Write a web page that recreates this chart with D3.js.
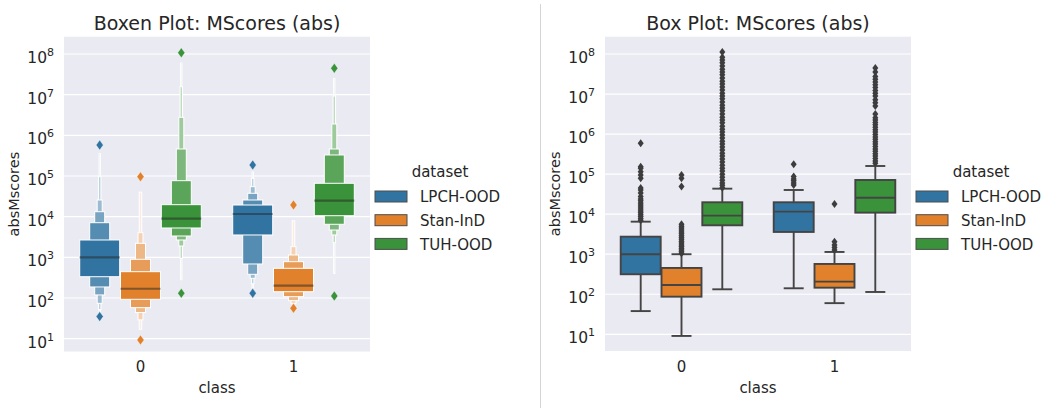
<!DOCTYPE html>
<html>
<head>
<meta charset="utf-8">
<script src="https://cdn.jsdelivr.net/npm/d3@7"></script>
<style>
body { margin: 0; background: #fff; }
text { font-family: "DejaVu Sans", sans-serif; fill: #262626; }
</style>
</head>
<body>
<div id="container"></div>
<script>
// categories
var classes = ["0", "1"];
var datasets = ["LPCH-OOD", "Stan-InD", "TUH-OOD"];
var yTicks = [1e1, 1e2, 1e3, 1e4, 1e5, 1e6, 1e7, 1e8];

// boxen plot: letter values, inner box first  [class][dataset][level]
var boxenMedian = [[1000, 169, 8913], [11640, 201, 24720]];
var boxenLower = [
  [[334, 187, 119, 74, 52, 40], [93, 58, 44, 29, 17], [5272, 3350, 2673, 1901, 948, 282]],
  [[3548, 687, 383, 305, 224, 178], [143, 108, 86, 74, 63], [10570, 6501, 4699, 3548, 2291, 400]]
];
var boxenUpper = [
  [[2673, 7112, 13240, 25700, 96200, 355000], [444, 895, 2213, 4036, 40000], [19720, 76740, 461300, 2.78e6, 1.57e7, 6.0e7]],
  [[19360, 25700, 37580, 54580, 87900, 126000], [537, 782, 1143, 1828, 7943], [66220, 328900, 461300, 1.90e6, 9.27e6, 2.5e7]]
];
var boxenOutliers = [
  [[575000, 35], [96200, 9.3], [1.07e8, 131]],
  [[186600, 131], [19360, 56], [4.45e7, 112]]
];

// box plot  [class][dataset]
var boxQ1 = [[316, 87, 5272], [3597, 146, 10910]];
var boxMedian = [[1000, 171, 9183], [11560, 207, 25820]];
var boxQ3 = [[2742, 454, 19820], [19820, 571, 71450]];
var whiskerLo = [[38, 9.1, 133], [141, 60, 114]];
var whiskerHi = [[6500, 1000, 43350], [40180, 1138, 159600]];
var boxOutliers = [
  [
    [7000, 7800, 8700, 9700, 10800, 12000, 13500, 15000, 17000, 19000, 21500, 24000, 27500,
     34000, 40000, 45000, 79000, 95000, 115000, 140000, 153000, 590000],
    [1050, 1150, 1270, 1400, 1550, 1700, 1900, 2100, 2350, 2600, 2900, 3250, 3600, 4000, 4500, 5000, 5600,
     49000, 79000, 95000],
    [45700, 52500, 60300, 70800, 83200, 1e5, 1.2e5, 1.41e5, 1.66e5, 2.0e5, 2.4e5, 2.82e5, 3.31e5, 3.98e5,
     4.79e5, 5.62e5, 6.61e5, 7.94e5, 9.55e5, 1.12e6, 1.32e6, 1.58e6, 1.91e6, 2.24e6, 2.63e6, 3.16e6,
     3.8e6, 4.47e6, 5.25e6, 6.31e6, 7.59e6, 8.91e6, 1.05e7, 1.26e7, 1.51e7, 1.78e7, 2.09e7, 2.51e7,
     3.02e7, 3.55e7, 4.17e7, 5.01e7, 6.03e7, 7.08e7, 8.32e7, 1.12e8]
  ],
  [
    [53700, 60000, 68000, 76000, 87000, 176000],
    [1276, 1480, 1700, 2050, 18000],
    [1.86e5, 2.14e5, 2.45e5, 2.82e5, 3.24e5, 3.72e5, 4.27e5, 4.9e5, 5.62e5, 6.46e5, 7.41e5, 8.51e5,
     9.77e5, 1.12e6, 1.29e6, 1.48e6, 1.7e6, 1.95e6, 2.24e6, 2.57e6, 3.16e6, 5.01e6, 6.03e6, 7.24e6,
     8.91e6, 1.05e7, 1.23e7, 1.45e7, 1.7e7, 2.0e7, 2.34e7, 2.75e7, 3.55e7, 4.47e7]
  ]
];

var width = 1050, height = 408;
var colors = ["#3274a1", "#e1812c", "#3a923a"];

var svg = d3.select("#container")
  .append("svg")
  .attr("width", width)
  .attr("height", height);

// divider between the two outputs
svg.append("line")
  .attr("x1", 540.5).attr("x2", 540.5)
  .attr("y1", 4).attr("y2", height)
  .attr("stroke", "#d4d4d4")
  .attr("stroke-width", 1);

function diamond(hw, hh) {
  return "M0," + (-hh) + "L" + hw + ",0L0," + hh + "L" + (-hw) + ",0Z";
}

function panel(opt) {
  var g = svg.append("g");

  var x = d3.scaleBand().domain(classes).range([opt.x0, opt.x1]);
  var hue = d3.scaleBand().domain(datasets)
    .range([0.1 * x.bandwidth(), 0.9 * x.bandwidth()]);
  var y = d3.scaleLog().domain([opt.lo, opt.hi]).range([opt.y1, opt.y0]);

  g.append("rect")
    .attr("x", opt.x0).attr("y", opt.y0)
    .attr("width", opt.x1 - opt.x0).attr("height", opt.y1 - opt.y0)
    .attr("fill", "#eaeaf2");

  g.selectAll("line.grid")
    .data(yTicks)
    .enter()
    .append("line")
    .attr("class", "grid")
    .attr("x1", opt.x0).attr("x2", opt.x1)
    .attr("y1", function(d) { return y(d); })
    .attr("y2", function(d) { return y(d); })
    .attr("stroke", "#fff")
    .attr("stroke-width", 1.2);

  // y tick labels as 10^n
  g.selectAll("text.ytick")
    .data(yTicks)
    .enter()
    .append("text")
    .attr("class", "ytick")
    .attr("x", opt.x0 - 10)
    .attr("y", function(d) { return y(d) + 9; })
    .attr("text-anchor", "end")
    .style("font-size", "15.5px")
    .each(function(d) {
      var t = d3.select(this);
      t.append("tspan").text("10");
      t.append("tspan").attr("dy", -7).style("font-size", "11px")
        .text(Math.round(Math.log10(d)));
    });

  g.selectAll("text.xtick")
    .data(classes)
    .enter()
    .append("text")
    .attr("class", "xtick")
    .attr("x", function(d) { return x(d) + x.bandwidth() / 2; })
    .attr("y", 372)
    .attr("text-anchor", "middle")
    .style("font-size", "15px")
    .text(function(d) { return d; });

  g.append("text")
    .attr("x", (opt.x0 + opt.x1) / 2).attr("y", 30)
    .attr("text-anchor", "middle")
    .style("font-size", "19px")
    .text(opt.title);

  g.append("text")
    .attr("x", (opt.x0 + opt.x1) / 2).attr("y", 392.5)
    .attr("text-anchor", "middle")
    .style("font-size", "15px")
    .text("class");

  g.append("text")
    .attr("transform", "translate(" + (opt.x0 - 45) + "," + ((opt.y0 + opt.y1) / 2) + ") rotate(-90)")
    .attr("text-anchor", "middle")
    .style("font-size", "14.5px")
    .text("absMscores");

  // legend
  var lg = g.append("g").attr("transform", "translate(" + opt.x1 + ",0)");
  lg.append("text")
    .attr("x", 70).attr("y", 177)
    .attr("text-anchor", "middle")
    .style("font-size", "15px")
    .text("dataset");
  lg.selectAll("rect")
    .data(datasets)
    .enter()
    .append("rect")
    .attr("x", 5).attr("y", function(d, i) { return 191 + i * 23.7; })
    .attr("width", 32).attr("height", 11)
    .attr("fill", function(d, i) { return colors[i]; })
    .attr("stroke", "#4d4d4d")
    .attr("stroke-width", 1);
  lg.selectAll("text.lab")
    .data(datasets)
    .enter()
    .append("text")
    .attr("class", "lab")
    .attr("x", 50).attr("y", function(d, i) { return 202.3 + i * 23.7; })
    .style("font-size", "15px")
    .text(function(d) { return d; });

  return { g: g, x: x, hue: hue, y: y };
}

// ---- boxen plot ----
var L = panel({ x0: 64, x1: 370, y0: 36.7, y1: 351.5,
  lo: Math.pow(10, 0.685), hi: Math.pow(10, 8.425), title: "Boxen Plot: MScores (abs)" });

classes.forEach(function(c, ci) {
  datasets.forEach(function(ds, di) {
    var cx = L.x(c) + L.hue(ds) + L.hue.bandwidth() / 2;
    var W = L.hue.bandwidth() * 0.98;
    var lo = boxenLower[ci][di], hi = boxenUpper[ci][di], n = lo.length;
    var light = d3.interpolateRgb(colors[di], "#ffffff")(0.85);
    var levels = d3.range(n).reverse();

    L.g.selectAll(null)
      .data(levels)
      .enter()
      .append("rect")
      .attr("x", function(j) { return cx - W * Math.pow(0.5, j) / 2; })
      .attr("y", function(j) { return L.y(hi[j]); })
      .attr("width", function(j) { return W * Math.pow(0.5, j); })
      .attr("height", function(j) { return L.y(lo[j]) - L.y(hi[j]); })
      .attr("fill", function(j) { return d3.interpolateRgb(colors[di], light)(j / (n - 1)); })
      .attr("stroke", "#fff")
      .attr("stroke-width", 1);

    L.g.append("line")
      .attr("x1", cx - W / 2).attr("x2", cx + W / 2)
      .attr("y1", L.y(boxenMedian[ci][di])).attr("y2", L.y(boxenMedian[ci][di]))
      .attr("stroke", "#262626").attr("stroke-opacity", 0.5)
      .attr("stroke-width", 2.2);

    L.g.selectAll(null)
      .data(boxenOutliers[ci][di])
      .enter()
      .append("path")
      .attr("d", diamond(3.6, 5))
      .attr("transform", function(d) { return "translate(" + cx + "," + L.y(d) + ")"; })
      .attr("fill", colors[di])
      .attr("stroke", "#fff")
      .attr("stroke-width", 0.4);
  });
});

// ---- box plot ----
var R = panel({ x0: 605, x1: 911, y0: 36.7, y1: 351,
  lo: Math.pow(10, 0.583), hi: Math.pow(10, 8.432), title: "Box Plot: MScores (abs)" });

var gray = "#444444";
classes.forEach(function(c, ci) {
  datasets.forEach(function(ds, di) {
    var cx = R.x(c) + R.hue(ds) + R.hue.bandwidth() / 2;
    var W = R.hue.bandwidth() * 0.98;

    R.g.append("line")
      .attr("x1", cx).attr("x2", cx)
      .attr("y1", R.y(boxQ3[ci][di])).attr("y2", R.y(whiskerHi[ci][di]))
      .attr("stroke", gray).attr("stroke-width", 1.9);
    R.g.append("line")
      .attr("x1", cx).attr("x2", cx)
      .attr("y1", R.y(boxQ1[ci][di])).attr("y2", R.y(whiskerLo[ci][di]))
      .attr("stroke", gray).attr("stroke-width", 1.9);
    [whiskerHi[ci][di], whiskerLo[ci][di]].forEach(function(v) {
      R.g.append("line")
        .attr("x1", cx - W / 4).attr("x2", cx + W / 4)
        .attr("y1", R.y(v)).attr("y2", R.y(v))
        .attr("stroke", gray).attr("stroke-width", 1.9);
    });

    R.g.append("rect")
      .attr("x", cx - W / 2).attr("y", R.y(boxQ3[ci][di]))
      .attr("width", W).attr("height", R.y(boxQ1[ci][di]) - R.y(boxQ3[ci][di]))
      .attr("fill", colors[di])
      .attr("stroke", gray).attr("stroke-width", 1.9);

    R.g.append("line")
      .attr("x1", cx - W / 2).attr("x2", cx + W / 2)
      .attr("y1", R.y(boxMedian[ci][di])).attr("y2", R.y(boxMedian[ci][di]))
      .attr("stroke", gray).attr("stroke-width", 1.9);

    R.g.selectAll(null)
      .data(boxOutliers[ci][di])
      .enter()
      .append("path")
      .attr("d", diamond(3, 4))
      .attr("transform", function(d) { return "translate(" + cx + "," + R.y(d) + ")"; })
      .attr("fill", "#3d3d3d");
  });
});
</script>
</body>
</html>
